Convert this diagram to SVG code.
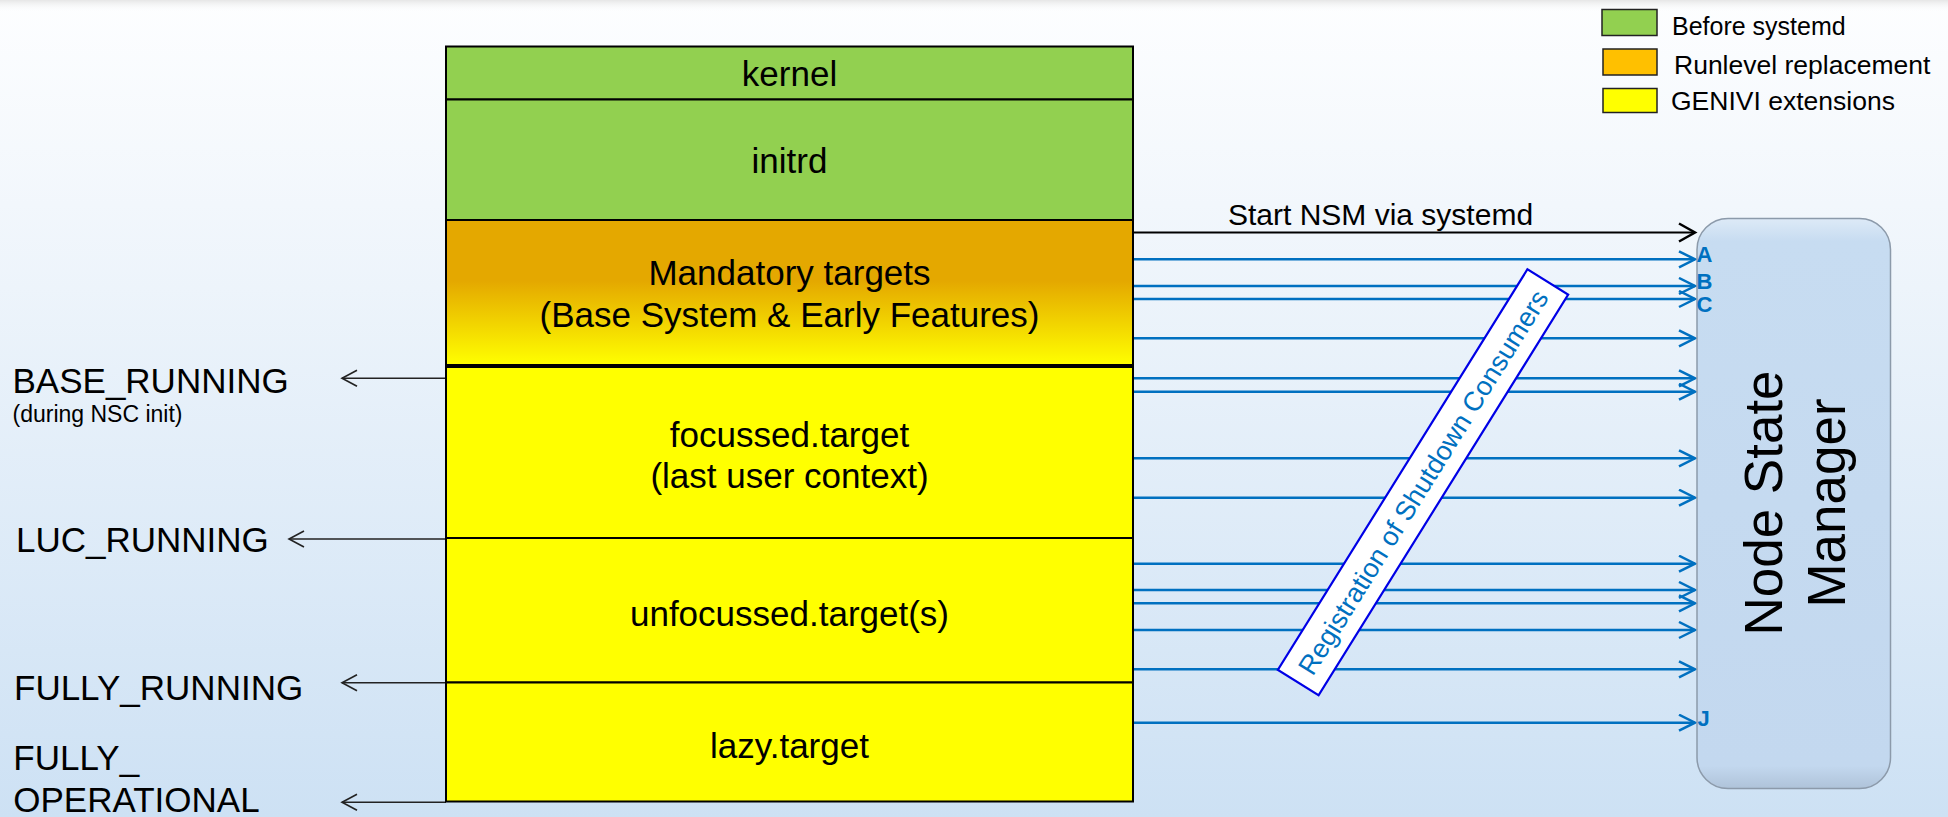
<svg xmlns="http://www.w3.org/2000/svg" width="1948" height="817" viewBox="0 0 1948 817">
<defs>
<linearGradient id="bg" x1="0" y1="0" x2="0" y2="1">
<stop offset="0" stop-color="#FDFEFF"/>
<stop offset="0.25" stop-color="#F2F7FC"/>
<stop offset="1" stop-color="#CDE1F4"/>
</linearGradient>
<linearGradient id="topband" x1="0" y1="0" x2="0" y2="1">
<stop offset="0" stop-color="#E6E6E6"/>
<stop offset="1" stop-color="#FDFEFF" stop-opacity="0"/>
</linearGradient>
<linearGradient id="mand" x1="0" y1="0" x2="0" y2="1">
<stop offset="0" stop-color="#E4A800"/>
<stop offset="0.42" stop-color="#E4A800"/>
<stop offset="1" stop-color="#FFFF00"/>
</linearGradient>
<linearGradient id="nsm" x1="0" y1="0" x2="0" y2="1">
<stop offset="0" stop-color="#DDEAF7"/>
<stop offset="0.04" stop-color="#C7DCF1"/>
<stop offset="0.96" stop-color="#C3D8EF"/>
<stop offset="1" stop-color="#AFC3D9"/>
</linearGradient>
<marker id="hb" markerUnits="userSpaceOnUse" markerWidth="20" markerHeight="20" viewBox="0 0 20 20" refX="17" refY="9" orient="auto">
<path d="M1,1 L17,9 L1,17" fill="none" stroke="#0070C0" stroke-width="2.5"/>
</marker>
<marker id="hk" markerUnits="userSpaceOnUse" markerWidth="20" markerHeight="22" viewBox="0 0 20 22" refX="17" refY="11" orient="auto">
<path d="M1,2 L17,11 L1,20" fill="none" stroke="#000" stroke-width="2.5"/>
</marker>
<marker id="hl" markerUnits="userSpaceOnUse" markerWidth="18" markerHeight="18" viewBox="0 0 18 18" refX="16" refY="9" orient="auto">
<path d="M1,1 L16,9 L1,17" fill="none" stroke="#222" stroke-width="1.6"/>
</marker>
</defs>
<style>
text{font-family:"Liberation Sans",Arial,sans-serif;fill:#000}
.box{stroke:#000;stroke-width:2}
.lbl{font-size:35px;text-anchor:middle}
.st{font-size:35px}
.blue{stroke:#0070C0;stroke-width:2.5;fill:none;marker-end:url(#hb)}
.left{stroke:#222;stroke-width:1.6;fill:none;marker-end:url(#hl)}
.leg{font-size:25px}
.abc{font-size:22px;font-weight:bold;fill:#0070C0}
</style>
<rect x="0" y="0" width="1948" height="817" fill="url(#bg)"/>
<rect x="0" y="0" width="1948" height="12" fill="url(#topband)"/>

<g id="connectors">
<line x1="1133" y1="232.5" x2="1695" y2="232.5" stroke="#000" stroke-width="2.2" marker-end="url(#hk)"/>
<line class="blue" x1="1133" y1="259.3" x2="1695" y2="259.3"/>
<line class="blue" x1="1133" y1="286" x2="1695" y2="286"/>
<line class="blue" x1="1133" y1="299" x2="1695" y2="299"/>
<line class="blue" x1="1133" y1="338.3" x2="1695" y2="338.3"/>
<line class="blue" x1="1133" y1="378.3" x2="1695" y2="378.3"/>
<line class="blue" x1="1133" y1="391.7" x2="1695" y2="391.7"/>
<line class="blue" x1="1133" y1="458.3" x2="1695" y2="458.3"/>
<line class="blue" x1="1133" y1="497.7" x2="1695" y2="497.7"/>
<line class="blue" x1="1133" y1="563.7" x2="1695" y2="563.7"/>
<line class="blue" x1="1133" y1="590" x2="1695" y2="590"/>
<line class="blue" x1="1133" y1="603.3" x2="1695" y2="603.3"/>
<line class="blue" x1="1133" y1="630" x2="1695" y2="630"/>
<line class="blue" x1="1133" y1="669.3" x2="1695" y2="669.3"/>
<line class="blue" x1="1133" y1="722.7" x2="1695" y2="722.7"/>
<line class="left" x1="446" y1="378.3" x2="342" y2="378.3"/>
<line class="left" x1="446" y1="539" x2="289" y2="539"/>
<line class="left" x1="446" y1="682.7" x2="342" y2="682.7"/>
<line class="left" x1="446" y1="802.3" x2="342" y2="802.3"/>
<text x="1228" y="225" style="font-size:30px">Start NSM via systemd</text>
</g>

<g id="registration">
<g transform="translate(1423,482.3) rotate(-58.08)">
<rect x="-236" y="-24" width="472" height="48" fill="#FFFFFF" stroke="#0000E6" stroke-width="2.2"/>
<text x="0" y="9.5" text-anchor="middle" style="font-size:27px;fill:#0070C0">Registration of Shutdown Consumers</text>
</g>
</g>

<g id="nsm">
<rect x="1697" y="218.5" width="193.5" height="570" rx="31" ry="31" fill="url(#nsm)" stroke="#8C9AAA" stroke-width="1.5"/>
<text transform="translate(1781.7,503) rotate(-90)" text-anchor="middle" style="font-size:53px">Node State</text>
<text transform="translate(1845,503) rotate(-90)" text-anchor="middle" style="font-size:53px">Manager</text>
<text class="abc" x="1696.5" y="262">A</text>
<text class="abc" x="1696.5" y="289">B</text>
<text class="abc" x="1696.5" y="311.5">C</text>
<text class="abc" x="1697.5" y="726">J</text>
</g>

<g id="kernel">
<rect class="box" x="446" y="46.5" width="687" height="53" fill="#92D050"/>
<text class="lbl" x="789.5" y="86">kernel</text>
</g>
<g id="initrd">
<rect class="box" x="446" y="99.5" width="687" height="120.5" fill="#92D050"/>
<text class="lbl" x="789.5" y="172.7">initrd</text>
</g>
<g id="mandatory">
<rect class="box" x="446" y="220" width="687" height="145" fill="url(#mand)"/>
<text class="lbl" x="789.5" y="285">Mandatory targets</text>
<text class="lbl" x="789.5" y="326.7">(Base System &amp; Early Features)</text>
</g>
<g id="focussed">
<rect class="box" x="446" y="367" width="687" height="171" fill="#FFFF00"/>
<text class="lbl" x="789.5" y="447">focussed.target</text>
<text class="lbl" x="789.5" y="488">(last user context)</text>
</g>
<g id="unfocussed">
<rect class="box" x="446" y="538" width="687" height="144.5" fill="#FFFF00"/>
<text class="lbl" x="789.5" y="626">unfocussed.target(s)</text>
</g>
<g id="lazy">
<rect class="box" x="446" y="682.5" width="687" height="119" fill="#FFFF00"/>
<text class="lbl" x="789.5" y="757.5">lazy.target</text>
</g>

<g id="states">
<text class="st" x="12.5" y="392.7">BASE_RUNNING</text>
<text x="12.5" y="421.5" style="font-size:23px">(during NSC init)</text>
<text class="st" x="16" y="551.7">LUC_RUNNING</text>
<text class="st" x="14" y="700">FULLY_RUNNING</text>
<text class="st" x="13.3" y="770">FULLY_</text>
<text class="st" x="13.3" y="811.7">OPERATIONAL</text>
</g>

<g id="legend">
<rect x="1602" y="9.5" width="55" height="26" fill="#92D050" stroke="#222" stroke-width="1.5"/>
<text class="leg" x="1672" y="35">Before systemd</text>
<rect x="1603" y="49" width="54" height="26" fill="#FFC000" stroke="#222" stroke-width="1.5"/>
<text class="leg" x="1674" y="74" style="font-size:26.5px">Runlevel replacement</text>
<rect x="1603" y="88.5" width="54" height="24" fill="#FFFF00" stroke="#222" stroke-width="1.5"/>
<text class="leg" x="1671" y="110" style="font-size:26.5px">GENIVI extensions</text>
</g>
</svg>
